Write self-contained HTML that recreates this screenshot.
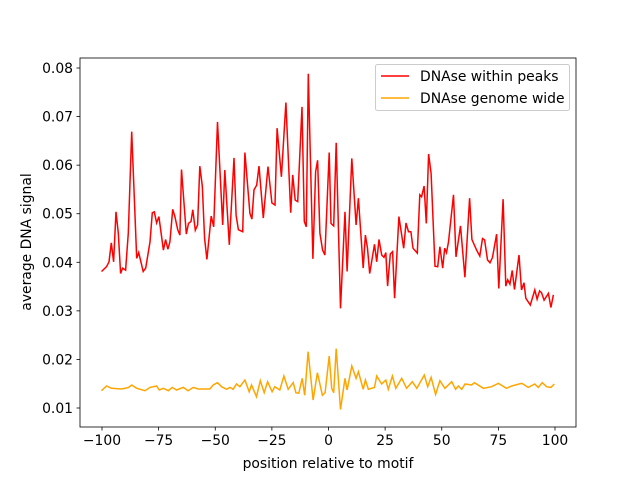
<!DOCTYPE html>
<html><head><meta charset="utf-8"><style>
body{margin:0;background:#fff;}
svg text{font-family:"DejaVu Sans","Liberation Sans",sans-serif;font-size:13.9px;fill:#000;}
</style></head><body>
<svg id="chart" width="640" height="480" xmlns="http://www.w3.org/2000/svg">
<rect x="0" y="0" width="640" height="480" fill="#fff"/>
<g id="marks"></g>
<rect x="80" y="58" width="496" height="369" fill="none" stroke="#000" stroke-width="0.8"/>
<g id="xticks"></g><g id="yticks"></g>
<text x="328" y="468" text-anchor="middle">position relative to motif</text>
<text transform="translate(31,242) rotate(-90)" text-anchor="middle">average DNA signal</text>
<g>
<rect x="375.5" y="64.5" width="194" height="46" rx="2" fill="#fff" fill-opacity="0.8" stroke="#ccc"/>
<line x1="381" y1="76" x2="409" y2="76" stroke="red" stroke-width="1.5"/>
<text x="420" y="81">DNAse within peaks</text>
<line x1="381" y1="98" x2="409" y2="98" stroke="orange" stroke-width="1.5"/>
<text x="420" y="103">DNAse genome wide</text>
</g>
</svg>
<script>
const redX=[-100.2,-98,-96.9,-95.9,-94.9,-93.8,-92.8,-91.8,-90.9,-89.6,-88.4,-86.9,-84.7,-83.8,-81.8,-80.7,-78.8,-77.8,-76.9,-75.9,-74.9,-72.9,-71.9,-70.9,-70,-68.8,-67.8,-66.6,-65.6,-64.9,-62.8,-61.8,-60.7,-59.9,-58.8,-57.8,-56.8,-55.7,-54.7,-53.7,-51.8,-50.7,-49,-46.7,-45.8,-43.8,-41.7,-40.8,-39.8,-37.9,-36.9,-34.7,-33.8,-32.9,-31.7,-30.7,-28.8,-26.7,-25,-23.6,-22.7,-20.8,-18.8,-16.7,-15.8,-14.7,-13.6,-11.7,-10.7,-9.8,-8.9,-6.9,-5.7,-4.8,-3.8,-2.6,-1.6,0.3,1.1,2.3,3.4,5.3,7.3,8.2,10.3,12.2,13.2,15.3,16.3,17.2,18.2,20.3,21.3,22.3,23.5,24.5,25.3,26.1,27.3,28.3,29.2,31.1,33.2,34.2,35.3,36.4,37.3,39.2,40.3,41.1,42.2,43.2,44.2,45.3,47,48.2,49.2,50.4,51.3,52.1,53,55.2,56.3,58.3,60.2,62.3,63.3,65.4,66.8,68,68.9,70.2,71.3,72.4,74.2,75.2,77.1,78.3,79.1,80.1,81.1,82.1,84.1,85.2,86.3,87.1,89.1,91.1,92.1,93.2,94.1,95.2,97.1,98.2,99.3];
const redY=[.0381,.0391,.0401,.044,.0401,.0504,.046,.0377,.0388,.0384,.046,.0669,.0408,.042,.0381,.0388,.0442,.0502,.0504,.0481,.0494,.0425,.0447,.0427,.0442,.0509,.0494,.0467,.0456,.0591,.0458,.048,.0484,.0508,.0466,.0477,.0598,.0557,.0449,.0406,.0495,.0473,.0689,.0477,.059,.0436,.0615,.0497,.0467,.0463,.0626,.0501,.0489,.0549,.0559,.0598,.0491,.0597,.0522,.0518,.0676,.0576,.0729,.0502,.058,.0528,.0525,.072,.0484,.0473,.0788,.0407,.0586,.061,.046,.0425,.0415,.0626,.048,.0475,.0646,.0305,.0504,.0381,.0614,.0477,.0532,.0388,.0456,.0429,.0377,.0437,.0401,.0447,.0415,.041,.042,.0351,.0417,.0422,.0326,.0494,.0429,.0481,.0463,.0463,.0429,.0419,.0539,.0535,.0557,.048,.0623,.0583,.0392,.0391,.0432,.0388,.0429,.042,.0442,.0539,.0411,.0475,.0369,.0532,.0447,.0425,.0413,.0449,.0446,.0405,.0399,.041,.0458,.0346,.053,.0351,.0364,.0355,.0383,.0344,.0415,.0343,.0358,.0326,.0312,.0343,.0324,.0341,.0337,.0322,.0336,.0307,.0333];
const orX=[-100.2,-98,-95.8,-91.3,-88.4,-86.9,-84.7,-81,-78.8,-75.9,-74.7,-72.9,-70.7,-69,-67.1,-64.1,-62,-59.7,-57.5,-52.4,-50.9,-49,-47.2,-45,-43.5,-42.1,-40.6,-39.1,-36.9,-35,-34,-31.8,-30.1,-28.4,-26.9,-24.9,-23.7,-21.5,-19.7,-17.8,-15.6,-14.4,-13.1,-11.6,-10.5,-9,-6.8,-4.9,-2.7,-1.5,0.3,1.4,2.3,3.4,5.3,7.3,8.2,10.3,12.2,13.2,15.3,16.3,17.6,20.3,21.3,23.5,25.3,26.4,28.2,29.7,32.3,34.5,37,39,42.3,43.8,45.3,47.3,49.2,51.4,54.4,56.1,57.3,58.8,60.3,63.2,64.4,68.4,72,75,78.6,80.9,85.3,88.2,91.1,92.6,94.4,96.3,98.2,99.7];
const orY=[.01356,.01453,.01405,.01391,.0142,.01474,.01405,.01356,.01425,.01453,.0137,.01405,.01356,.01425,.0137,.01425,.01356,.01425,.01391,.01391,.01474,.0152,.01439,.01384,.01425,.01384,.01494,.01439,.01576,.01336,.01474,.01233,.01562,.01315,.01542,.01336,.01439,.0137,.01658,.01384,.01522,.01315,.01302,.01611,.01261,.0216,.01165,.01727,.01261,.01315,.0207,.01405,.01315,.0222,.0097,.01611,.0137,.01864,.01611,.01747,.01384,.01576,.01384,.01425,.01658,.01494,.01576,.01384,.01658,.01405,.01611,.01405,.01542,.01405,.01679,.01439,.01630,.01281,.01562,.01405,.01542,.01384,.01453,.01384,.01494,.01474,.0152,.01405,.01439,.01508,.01405,.01453,.01508,.01425,.01494,.01425,.0152,.01439,.01425,.01494];
const xTicks=[-100,-75,-50,-25,0,25,50,75,100];
const yTicks=[0.01,0.02,0.03,0.04,0.05,0.06,0.07,0.08];
const NS="http://www.w3.org/2000/svg";
const sx=v=>102+(v+100)*2.265;
const sy=v=>408-(v-0.01)*4857;
function line(xs,ys,color,name){
  const p=document.createElementNS(NS,"polyline");
  p.setAttribute("points",xs.map((x,i)=>sx(x).toFixed(1)+","+sy(ys[i]).toFixed(1)).join(" "));
  p.setAttribute("fill","none");p.setAttribute("stroke",color);p.setAttribute("stroke-width","1.5");
  
  
  document.getElementById("marks").appendChild(p);
}
line(redX,redY,"red","series-within-peaks");
line(orX,orY,"orange","series-genome-wide");
const xg=document.getElementById("xticks");
xTicks.forEach(t=>{
  const l=document.createElementNS(NS,"line");
  l.setAttribute("x1",sx(t));l.setAttribute("x2",sx(t));l.setAttribute("y1",427);l.setAttribute("y2",430.5);l.setAttribute("stroke","#000");l.setAttribute("stroke-width","0.8");
  
  
  xg.appendChild(l);
  const tx=document.createElementNS(NS,"text");
  tx.setAttribute("x",sx(t));tx.setAttribute("y",445);tx.setAttribute("text-anchor","middle");
  tx.textContent=(t<0?"\u2212"+(-t):t);
  
  
  xg.appendChild(tx);
});
const yg=document.getElementById("yticks");
yTicks.forEach(t=>{
  const l=document.createElementNS(NS,"line");
  l.setAttribute("x1",76.5);l.setAttribute("x2",80);l.setAttribute("y1",sy(t));l.setAttribute("y2",sy(t));l.setAttribute("stroke","#000");l.setAttribute("stroke-width","0.8");
  
  
  yg.appendChild(l);
  const tx=document.createElementNS(NS,"text");
  tx.setAttribute("x",73);tx.setAttribute("y",sy(t)+5);tx.setAttribute("text-anchor","end");
  tx.textContent=t.toFixed(2);
  
  
  yg.appendChild(tx);
});
</script>
</body></html>
